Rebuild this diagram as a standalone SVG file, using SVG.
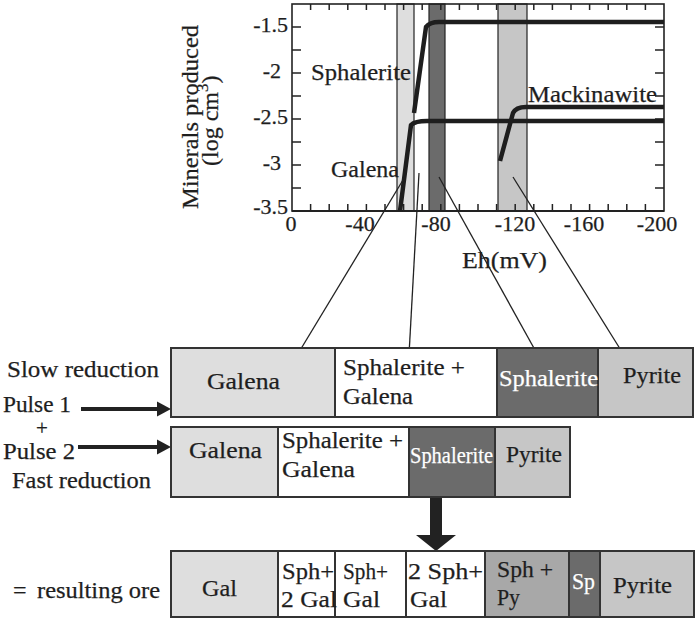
<svg xmlns="http://www.w3.org/2000/svg" width="700" height="622" viewBox="0 0 700 622" font-family="'Liberation Serif', 'Times New Roman', Times, serif">
<defs>
<style>
text{font-family:'Liberation Serif','Times New Roman',Times,serif;font-size:24px;fill:#1e1e1e;stroke:#1e1e1e;stroke-width:0.25px;}
.w{fill:#fff;stroke:#fff;}
.tk{font-size:22px;}
.box{stroke:#333;stroke-width:2;}
.lt{fill:#dedede;}
.md{fill:#c6c6c6;}
.dk{fill:#6b6b6b;}
.mx{fill:#a8a8a8;}
.wh{fill:#fff;}
.band{stroke:#222;stroke-width:1.2;}
.curve{fill:none;stroke:#1e1e1e;stroke-width:4.5;stroke-linejoin:round;}
.conn{stroke:#222;stroke-width:1.3;fill:none;}
.tick{stroke:#222;stroke-width:1.5;}
</style>
</defs>
<rect width="700" height="622" fill="#fff"/>

<g id="plot">
<rect class="band lt" x="397" y="4" width="17" height="207"/>
<rect class="band dk" x="429" y="4" width="16" height="207"/>
<rect class="band md" x="498" y="4" width="29" height="207"/>
<rect x="292" y="4" width="372" height="207" fill="none" stroke="#222" stroke-width="1.6"/>
<line x1="292" y1="211" x2="664" y2="211" stroke="#222" stroke-width="2.2"/>
<path class="tick" d="M310.6,4v6M329.2,4v6M347.8,4v6M366.4,4v6M385,4v6M403.6,4v6M422.2,4v6M440.8,4v6M459.4,4v6M478,4v6M496.6,4v6M515.2,4v6M533.8,4v6M552.4,4v6M571,4v6M589.6,4v6M608.2,4v6M626.8,4v6M645.4,4v6
M310.6,211v-7M329.2,211v-7M347.8,211v-7M366.4,211v-7M385,211v-7M403.6,211v-7M422.2,211v-7M440.8,211v-7M459.4,211v-7M478,211v-7M496.6,211v-7M515.2,211v-7M533.8,211v-7M552.4,211v-7M571,211v-7M589.6,211v-7M608.2,211v-7M626.8,211v-7M645.4,211v-7
M292,27h9M292,50h9M292,73h9M292,96h9M292,119h9M292,142h9M292,165h9M292,188h9
M664,27h-9M664,50h-9M664,73h-9M664,96h-9M664,119h-9M664,142h-9M664,165h-9M664,188h-9"/>
<path class="curve" d="M414,113 L426,27 Q430,22 439,22 L664,22"/>
<path class="curve" d="M400,211 L411,125 Q415,121 427,121 L664,121"/>
<path class="curve" d="M500,161 L513,113 Q516,107 526,107 L664,107"/>
<text class="tk" x="288" y="32" text-anchor="end">-1.5</text>
<text class="tk" x="281" y="78" text-anchor="end">-2</text>
<text class="tk" x="288" y="124" text-anchor="end">-2.5</text>
<text class="tk" x="281" y="170" text-anchor="end">-3</text>
<text class="tk" x="288" y="214" text-anchor="end">-3.5</text>
<text class="tk" x="291" y="231" text-anchor="middle">0</text>
<text class="tk" x="360" y="231" text-anchor="middle">-40</text>
<text class="tk" x="436" y="231" text-anchor="middle">-80</text>
<text class="tk" x="515" y="231" text-anchor="middle">-120</text>
<text class="tk" x="584" y="231" text-anchor="middle">-160</text>
<text class="tk" x="657" y="231" text-anchor="middle">-200</text>
<text x="462" y="268" textLength="85" lengthAdjust="spacingAndGlyphs">Eh(mV)</text>
<text transform="translate(198,209) rotate(-90)" textLength="184" lengthAdjust="spacingAndGlyphs">Minerals produced</text>
<text transform="translate(218,166) rotate(-90)">(log cm<tspan style="font-size:17px" dy="-10">3</tspan><tspan dy="10">)</tspan></text>
<text x="311" y="80" textLength="100" lengthAdjust="spacingAndGlyphs">Sphalerite</text>
<text x="331" y="177" textLength="68" lengthAdjust="spacingAndGlyphs">Galena</text>
<text x="528" y="102" textLength="129" lengthAdjust="spacingAndGlyphs">Mackinawite</text>
</g>

<g id="connectors">
<line class="conn" x1="403" y1="180" x2="293" y2="362"/>
<line class="conn" x1="419" y1="173" x2="409" y2="355"/>
<line class="conn" x1="439" y1="177" x2="540" y2="359"/>
<line class="conn" x1="513" y1="177" x2="627" y2="360"/>
<line x1="81" y1="409" x2="160" y2="409" stroke="#222" stroke-width="4"/>
<polygon points="157,401.5 171,409 157,416.5" fill="#222"/>
<line x1="78" y1="447" x2="160" y2="447" stroke="#222" stroke-width="4"/>
<polygon points="157,439.5 171,447 157,454.5" fill="#222"/>
<rect x="430" y="497" width="12" height="39" fill="#222"/>
<polygon points="416,535 456,535 436,551" fill="#222"/>
</g>

<g id="labels">
<text x="7" y="377" textLength="152" lengthAdjust="spacingAndGlyphs">Slow reduction</text>
<text x="3" y="412" textLength="68" lengthAdjust="spacingAndGlyphs">Pulse 1</text>
<text x="42" y="435" text-anchor="middle" style="font-size:21px">+</text>
<text x="3" y="459" textLength="72" lengthAdjust="spacingAndGlyphs">Pulse 2</text>
<text x="12" y="488" textLength="139" lengthAdjust="spacingAndGlyphs">Fast reduction</text>
<text x="13" y="598">=</text>
<text x="37" y="598" textLength="123" lengthAdjust="spacingAndGlyphs">resulting ore</text>
</g>

<g id="row-slow">
<rect class="box lt" x="171" y="348" width="164" height="69"/>
<rect class="box wh" x="335" y="348" width="162" height="69"/>
<rect class="box dk" x="497" y="348" width="101" height="69"/>
<rect class="box md" x="598" y="348" width="95" height="69"/>
<text x="207" y="389" textLength="73" lengthAdjust="spacingAndGlyphs">Galena</text>
<text x="343" y="375" textLength="122" lengthAdjust="spacingAndGlyphs">Sphalerite +</text>
<text x="343" y="404" textLength="70" lengthAdjust="spacingAndGlyphs">Galena</text>
<text class="w" x="499" y="386" textLength="99" lengthAdjust="spacingAndGlyphs">Sphalerite</text>
<text x="623" y="383" textLength="58" lengthAdjust="spacingAndGlyphs">Pyrite</text>
</g>

<g id="row-fast">
<rect class="box lt" x="171" y="427" width="107" height="70"/>
<rect class="box wh" x="278" y="427" width="131" height="70"/>
<rect class="box dk" x="409" y="427" width="86" height="70"/>
<rect class="box md" x="495" y="427" width="75" height="70"/>
<text x="189" y="458" textLength="73" lengthAdjust="spacingAndGlyphs">Galena</text>
<text x="282" y="448" textLength="121" lengthAdjust="spacingAndGlyphs">Sphalerite +</text>
<text x="282" y="477" textLength="73" lengthAdjust="spacingAndGlyphs">Galena</text>
<text class="w" x="410" y="463" textLength="83" lengthAdjust="spacingAndGlyphs">Sphalerite</text>
<text x="506" y="462" textLength="56" lengthAdjust="spacingAndGlyphs">Pyrite</text>
</g>

<g id="row-ore">
<rect class="box lt" x="171" y="551" width="107" height="66"/>
<rect class="box wh" x="278" y="551" width="57" height="66"/>
<rect class="box wh" x="335" y="551" width="71" height="66"/>
<rect class="box wh" x="406" y="551" width="79" height="66"/>
<rect class="box mx" x="485" y="551" width="84" height="66"/>
<rect class="box dk" x="569" y="551" width="31" height="66"/>
<rect class="box md" x="600" y="551" width="94" height="66"/>
<text x="202" y="596" textLength="35" lengthAdjust="spacingAndGlyphs">Gal</text>
<text x="282" y="579" textLength="52" lengthAdjust="spacingAndGlyphs">Sph+</text>
<text x="281" y="607" textLength="56" lengthAdjust="spacingAndGlyphs">2 Gal</text>
<text x="343" y="579" textLength="45" lengthAdjust="spacingAndGlyphs">Sph+</text>
<text x="343" y="607" textLength="37" lengthAdjust="spacingAndGlyphs">Gal</text>
<text x="408" y="579" textLength="75" lengthAdjust="spacingAndGlyphs">2 Sph+</text>
<text x="410" y="607" textLength="37" lengthAdjust="spacingAndGlyphs">Gal</text>
<text x="497" y="577" textLength="56" lengthAdjust="spacingAndGlyphs">Sph +</text>
<text x="497" y="605" textLength="23" lengthAdjust="spacingAndGlyphs">Py</text>
<text class="w" x="572" y="589" textLength="23" lengthAdjust="spacingAndGlyphs">Sp</text>
<text x="613" y="593" textLength="59" lengthAdjust="spacingAndGlyphs">Pyrite</text>
</g>
</svg>
